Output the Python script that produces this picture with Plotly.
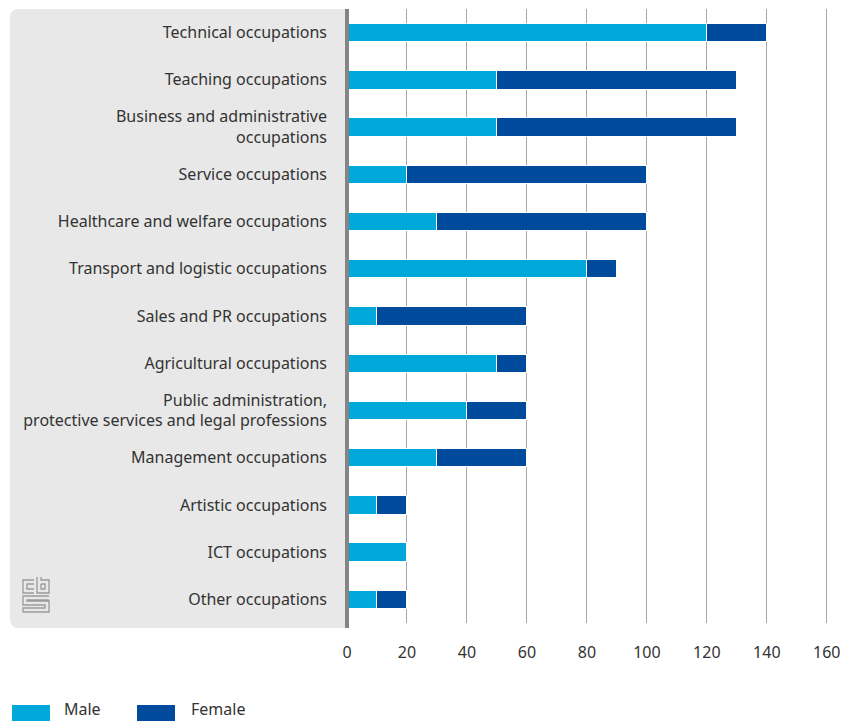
import plotly.graph_objects as go

categories = [
    "Technical occupations",
    "Teaching occupations",
    "Business and administrative<br>occupations",
    "Service occupations",
    "Healthcare and welfare occupations",
    "Transport and logistic occupations",
    "Sales and PR occupations",
    "Agricultural occupations",
    "Public administration,<br>protective services and legal professions",
    "Management occupations",
    "Artistic occupations",
    "ICT occupations",
    "Other occupations",
]
male = [120, 50, 50, 20, 30, 80, 10, 50, 40, 30, 10, 20, 10]
female = [20, 80, 80, 80, 70, 10, 50, 10, 20, 30, 10, 0, 10]
x_ticks = [0, 20, 40, 60, 80, 100, 120, 140, 160]

MALE_C = "#00a9da"
FEMALE_C = "#004a9b"
FONT = "Noto Sans"
TXT = "#333333"

W, H = 843, 721
L, R, T, B = 347, 15, 9, 98
PW = W - L - R
PH = H - T - B


def px(x):
    return (x - L) / PW


def py(y):
    return (H - B - y) / PH


fig = go.Figure()
fig.add_trace(go.Bar(y=categories, x=male, name="Male", orientation="h",
                     marker=dict(color=MALE_C, line=dict(color="white", width=1)),
                     width=0.39, showlegend=False))
fig.add_trace(go.Bar(y=categories, x=female, name="Female", orientation="h",
                     marker=dict(color=FEMALE_C, line=dict(color="white", width=1)),
                     width=0.39, showlegend=False))

shapes = []
# grey label panel with rounded left corners
x0, x1, y0, y1, r = 10, 345, 9, 628, 9
path = (f"M {px(x1)},{py(y0)} L {px(x0 + r)},{py(y0)} "
        f"Q {px(x0)},{py(y0)} {px(x0)},{py(y0 + r)} "
        f"L {px(x0)},{py(y1 - r)} Q {px(x0)},{py(y1)} {px(x0 + r)},{py(y1)} "
        f"L {px(x1)},{py(y1)} Z")
shapes.append(dict(type="path", xref="paper", yref="paper", path=path,
                   fillcolor="#e7e8e7", line=dict(width=0), layer="below"))
# axis line
shapes.append(dict(type="line", xref="paper", yref="paper",
                   x0=px(347), x1=px(347), y0=py(9), y1=py(628),
                   line=dict(color="#858585", width=4), layer="above"))

# cbs logo (decorative)
logo_paths = [
    [(34, 580), (23, 580), (23, 593), (34, 593)],
    [(34, 584), (27, 584), (27, 589), (34, 589)],
    [(37, 577), (37, 593), (49, 593), (49, 580), (41, 580), (41, 577)],
    [(41, 584), (45, 584), (45, 589), (41, 589), (41, 584)],
    [(49, 596), (23, 596), (23, 605), (45, 605), (45, 608), (23, 608), (23, 612), (49, 612), (49, 601), (27, 601), (27, 600), (49, 600)],
]
for pts in logo_paths:
    d = "M " + " L ".join(f"{px(a)},{py(b)}" for a, b in pts)
    shapes.append(dict(type="path", xref="paper", yref="paper", path=d,
                       line=dict(color="#9a9a9a", width=1.3), layer="above"))

# legend swatches
legend_items = [("Male", MALE_C, 12, 51), ("Female", FEMALE_C, 137, 53)]
annotations = []
for name, col, lx, off in legend_items:
    shapes.append(dict(type="rect", xref="paper", yref="paper",
                       x0=px(lx), x1=px(lx + 38), y0=py(705), y1=py(722),
                       fillcolor=col, line=dict(width=0)))
    annotations.append(dict(xref="paper", yref="paper", x=px(lx + off), y=py(709),
                            text=name, showarrow=False, xanchor="left", yanchor="middle",
                            borderpad=0,
                            font=dict(family=FONT, size=16, color=TXT)))

fig.update_layout(
    width=W, height=H, autosize=False,
    margin=dict(l=L, r=R, t=T, b=B, pad=0, autoexpand=False),
    barmode="stack",
    plot_bgcolor="white", paper_bgcolor="white",
    font=dict(family=FONT, size=16, color=TXT),
    shapes=shapes, annotations=annotations,
    showlegend=False,
    xaxis=dict(range=[0, 160.4], tickvals=x_ticks, showgrid=True, automargin=False,
               gridcolor="#a8a8a8", gridwidth=1, zeroline=False, showline=False,
               ticks="", ticklabelstandoff=18, tickfont=dict(size=16, color=TXT)),
    yaxis=dict(categoryorder="array", categoryarray=categories, autorange="reversed",
               showgrid=False, zeroline=False, showline=False, ticks="", automargin=False,
               ticklabelstandoff=19, tickfont=dict(size=16, color=TXT)),
)

fig.write_html("out.html", config={"displayModeBar": False},
               post_script="document.body.style.margin='0';")
